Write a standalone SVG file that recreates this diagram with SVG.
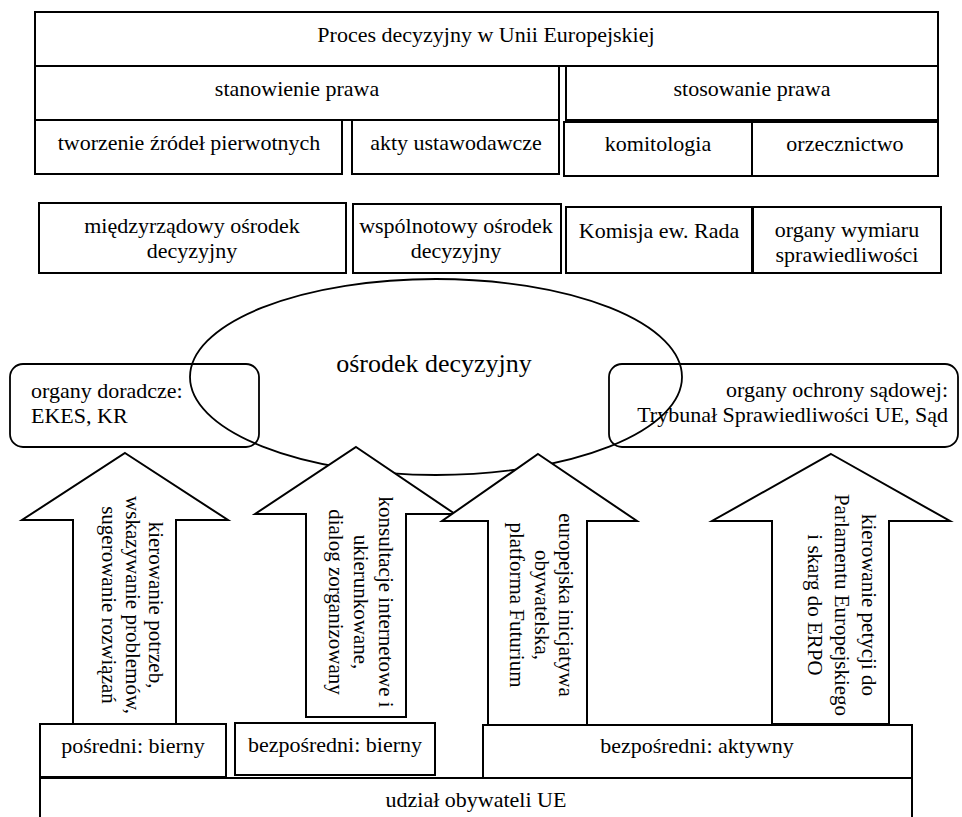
<svg xmlns="http://www.w3.org/2000/svg" width="962" height="817" viewBox="0 0 962 817">
<style>
.b{fill:#fff;stroke:#000;stroke-width:2}
.rb{fill:none;stroke:#000;stroke-width:1.8}
.el{fill:none;stroke:#000;stroke-width:1.8}
.ar{fill:#fff;stroke:#000;stroke-width:2;stroke-linejoin:miter}
text{font-family:"Liberation Serif","Times New Roman",serif;font-size:22px;fill:#000}
.c{text-anchor:middle}
.e{text-anchor:end}
.v{font-size:21px;text-anchor:middle}
.big{font-size:26px;text-anchor:middle}
</style>
<rect width="962" height="817" fill="#fff"/>

<g id="title"><rect class="b" x="35" y="12" width="903" height="54"/><text class="c" x="486" y="42">Proces decyzyjny w Unii Europejskiej</text></g>
<g id="stanowienie"><rect class="b" x="35" y="66" width="524" height="54"/><text class="c" x="297" y="96">stanowienie prawa</text></g>
<g id="stosowanie"><rect class="b" x="566" y="66" width="372" height="54"/><text class="c" x="752" y="96">stosowanie prawa</text></g>
<g id="tworzenie"><rect class="b" x="35" y="120" width="307" height="54"/><text class="c" x="189" y="150">tworzenie źródeł pierwotnych</text></g>
<g id="akty"><rect class="b" x="352" y="120" width="207" height="54"/><text class="c" x="456" y="150">akty ustawodawcze</text></g>
<g id="komitologia"><rect class="b" x="564" y="122" width="188" height="54"/><text class="c" x="658" y="151">komitologia</text></g>
<g id="orzecznictwo"><rect class="b" x="752" y="122" width="186" height="54"/><text class="c" x="845" y="151">orzecznictwo</text></g>

<g id="miedzyrzadowy"><rect class="b" x="39" y="203" width="307" height="70"/><text class="c" x="192" y="233">międzyrządowy ośrodek<tspan x="192" dy="25">decyzyjny</tspan></text></g>
<g id="wspolnotowy"><rect class="b" x="353" y="204" width="208" height="69"/><text class="c" x="456" y="233">wspólnotowy ośrodek<tspan x="456" dy="25">decyzyjny</tspan></text></g>
<g id="komisja"><rect class="b" x="566" y="207" width="186" height="66"/><text class="c" x="659" y="238">Komisja ew. Rada</text></g>
<g id="wymiar"><rect class="b" x="753" y="207" width="188" height="66"/><text class="c" x="847" y="237">organy wymiaru<tspan x="847" dy="25">sprawiedliwości</tspan></text></g>

<g id="doradcze"><rect class="rb" x="10" y="364" width="249" height="83" rx="13"/><text x="31" y="398">organy doradcze:<tspan x="31" dy="25">EKES, KR</tspan></text></g>
<g id="ochrona"><rect class="rb" x="609" y="364" width="349" height="83" rx="13"/><text class="e" x="948" y="397">organy ochrony sądowej:<tspan x="948" dy="25">Trybunał Sprawiedliwości UE, Sąd</tspan></text></g>

<g id="osrodek"><ellipse class="el" cx="436" cy="377" rx="246" ry="98"/><text class="big" x="434" y="372">ośrodek decyzyjny</text></g>

<g id="connectors">
<g id="arrow1"><polygon class="ar" points="125,453 228,520 176,520 176,724 73,724 73,520 22,520"/>
<text class="v" transform="translate(149,605) rotate(90)">kierowanie potrzeb,<tspan x="0" dy="23.5">wskazywanie problemów,</tspan><tspan x="0" dy="23.5">sugerowanie rozwiązań</tspan></text></g>
<g id="arrow2"><polygon class="ar" points="356,447 455,514 406,514 406,717 306,717 306,514 255,514"/>
<text class="v" transform="translate(379,602) rotate(90)">konsultacje internetowe i<tspan x="0" dy="25">ukierunkowane,</tspan><tspan x="0" dy="25">dialog zorganizowany</tspan></text></g>
<g id="arrow3"><polygon class="ar" points="538,454 637,521 587,521 587,725 488,725 488,521 442,521"/>
<text class="v" transform="translate(559,605) rotate(90)">europejska inicjatywa<tspan x="0" dy="24.5">obywatelska,</tspan><tspan x="0" dy="24.5">platforma Futurium</tspan></text></g>
<g id="arrow4"><polygon class="ar" points="831,454 950,521 889,521 889,724 772,724 772,521 712,521"/>
<text class="v" transform="translate(862,605) rotate(90)">kierowanie petycji do<tspan x="0" dy="27">Parlamentu Europejskiego</tspan><tspan x="0" dy="27">i skarg do ERPO</tspan></text></g>
</g>

<g id="posredni"><rect class="b" x="40" y="724" width="186" height="53"/><text class="c" x="133" y="753">pośredni: bierny</text></g>
<g id="bezposredni-bierny"><rect class="b" x="235" y="723" width="200" height="52"/><text class="c" x="335" y="752">bezpośredni: bierny</text></g>
<g id="bezposredni-aktywny"><rect class="b" x="483" y="725" width="429" height="53"/><text class="c" x="697" y="753">bezpośredni: aktywny</text></g>
<g id="udzial"><rect class="b" x="40" y="778" width="872" height="60"/><text class="c" x="476" y="807">udział obywateli UE</text></g>
</svg>
